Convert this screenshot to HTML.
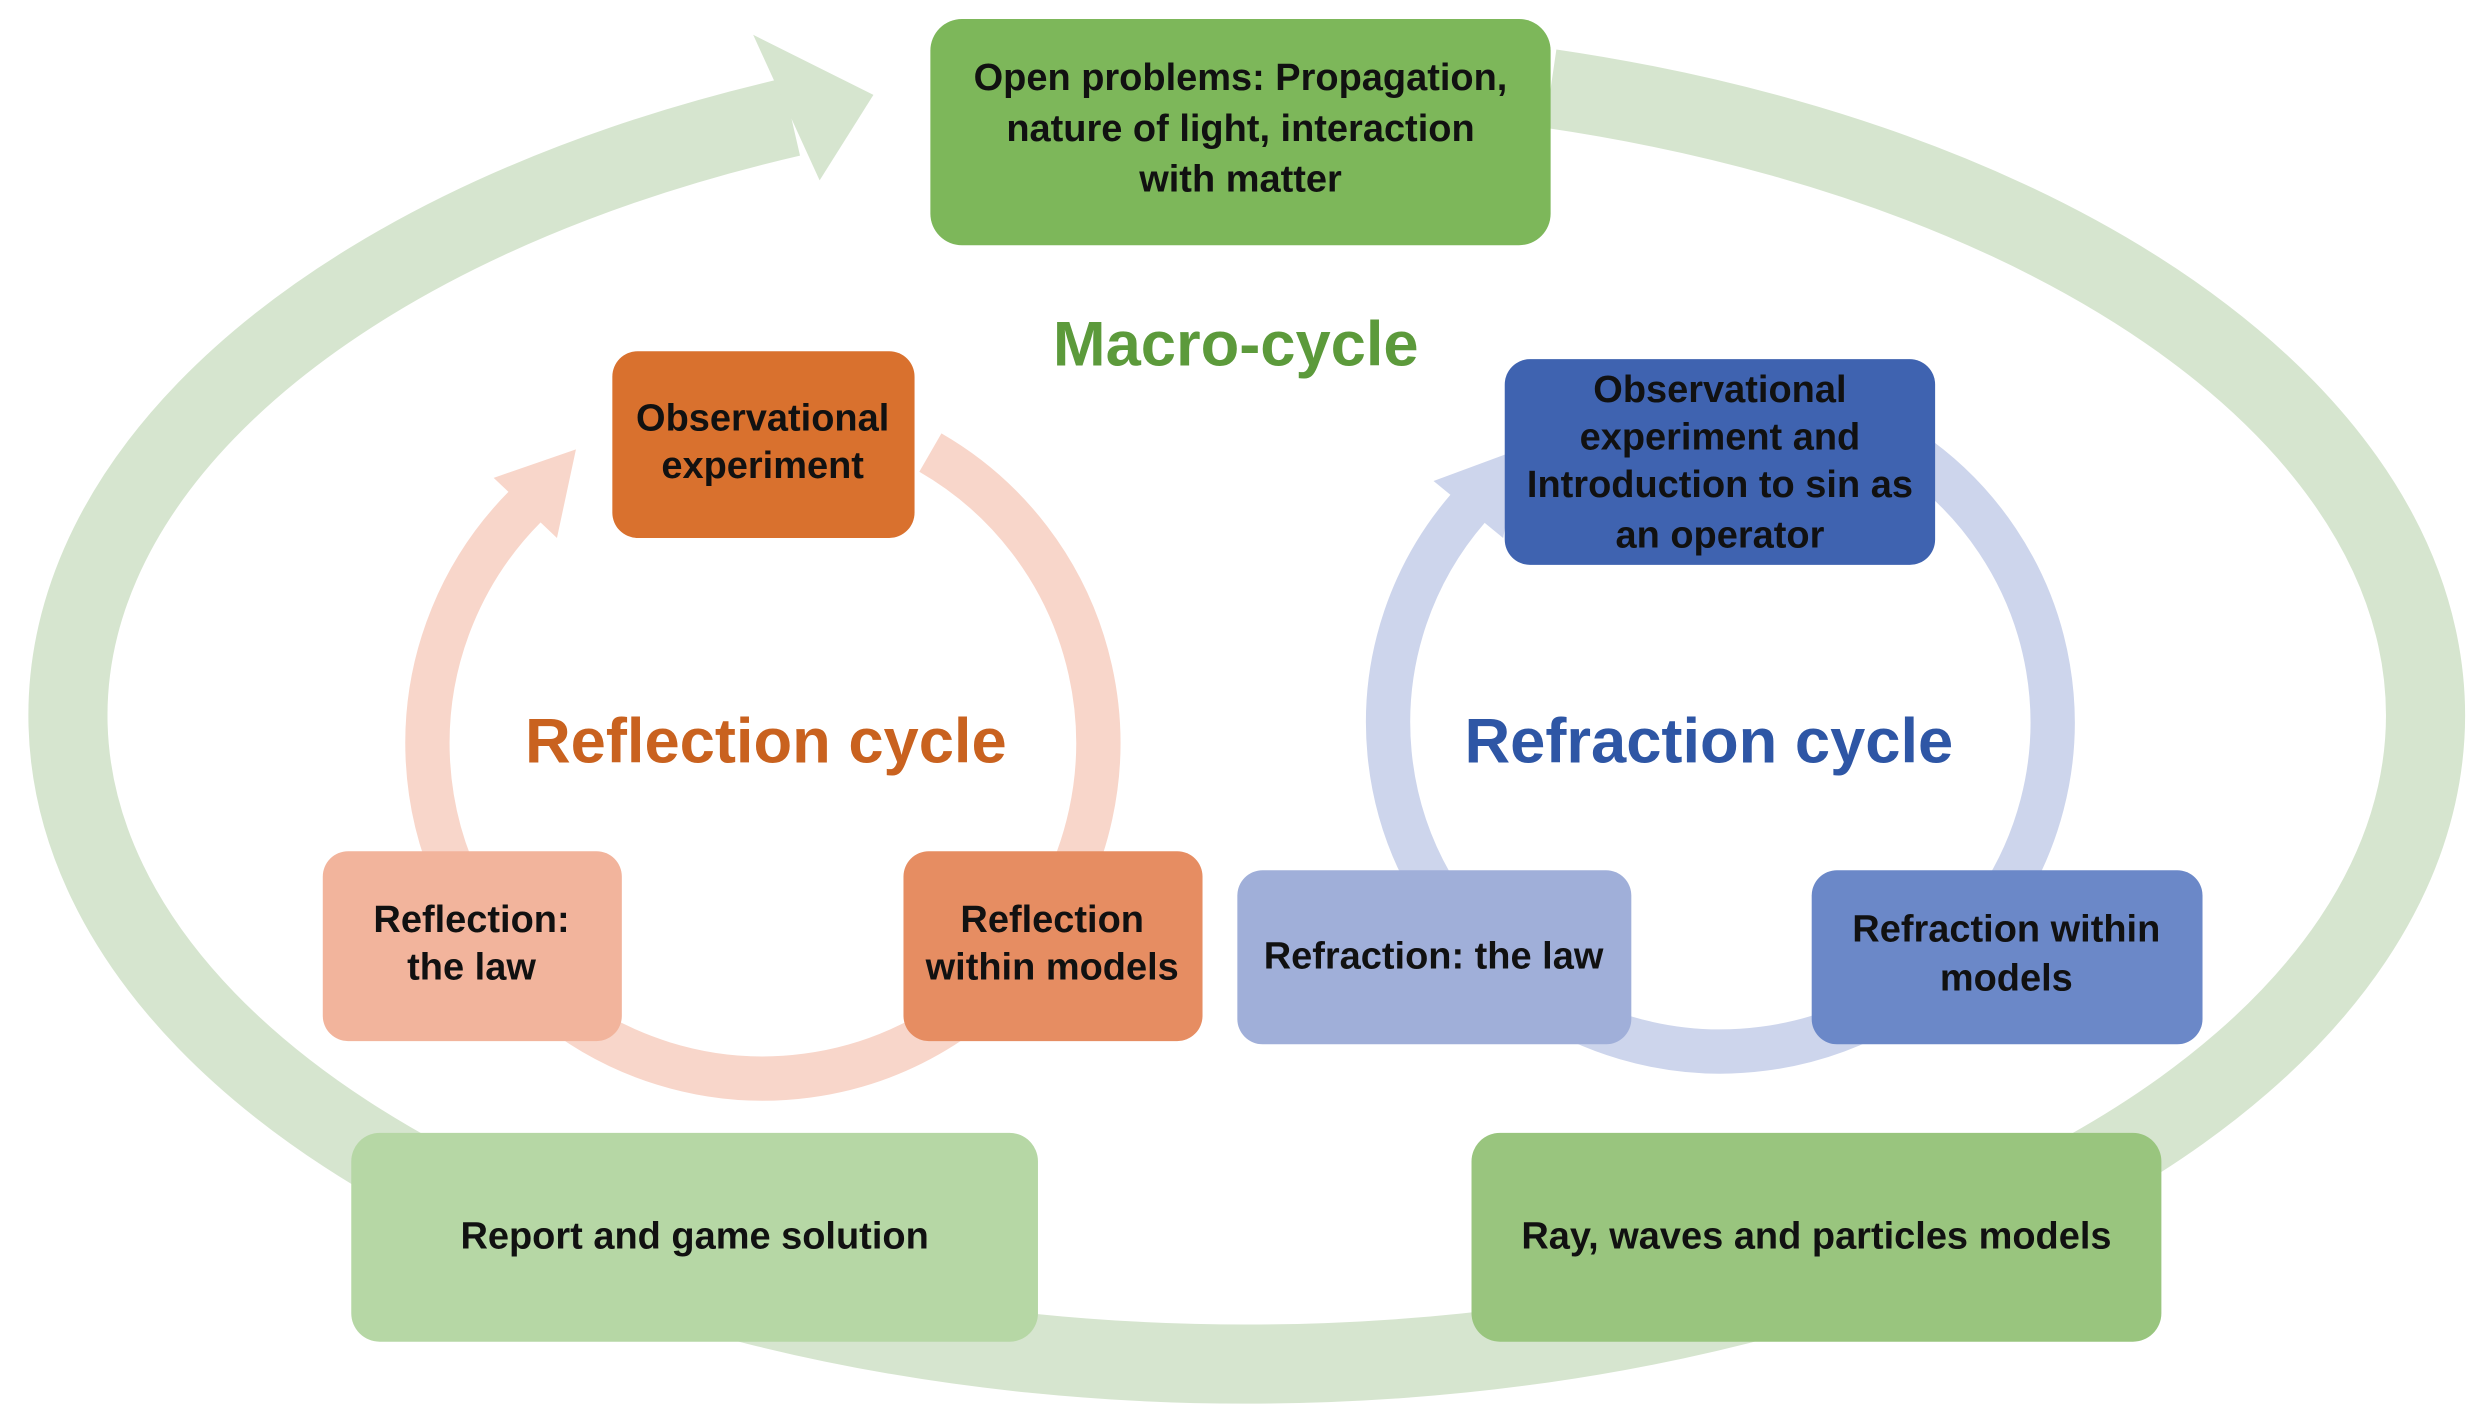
<!DOCTYPE html>
<html><head><meta charset="utf-8"><style>
html,body{margin:0;padding:0;background:#fff;}
svg{display:block;}
text{font-family:"Liberation Sans Narrow","Liberation Sans",sans-serif;font-weight:bold;text-anchor:middle;}
.b{font-size:24px;fill:#111;}
</style></head><body>
<svg width="2481" height="1424" viewBox="0 0 1568 900" preserveAspectRatio="none" xmlns="http://www.w3.org/2000/svg">
<!-- macro ellipse -->
<path d="M 980 56 A 745 410 0 1 1 500 74" fill="none" stroke="#d6e5cf" stroke-width="50"/>
<polygon points="476,22 552,60 518,114" fill="#d6e5cf"/>
<!-- reflection ring -->
<path d="M 588 286 A 212 212 0 1 1 332 320" fill="none" stroke="#f8d6ca" stroke-width="28"/>
<polygon points="364,284 352,340 312,302" fill="#f8d6ca"/>
<!-- refraction ring -->
<path d="M 1206 285 A 210 208 0 1 1 928 321" fill="none" stroke="#cdd5ec" stroke-width="28"/>
<polygon points="960,284 950,340 906,304" fill="#cdd5ec"/>

<rect x="588" y="12" width="392" height="143" rx="20" fill="#7db75a"/>
<text class="b" x="784" y="57">Open problems: Propagation,</text>
<text class="b" x="784" y="89">nature of light, interaction</text>
<text class="b" x="784" y="121">with matter</text>

<text x="781" y="231" style="font-size:40px;fill:#5c9a3b">Macro-cycle</text>

<rect x="387" y="222" width="191" height="118" rx="16" fill="#d9712e"/>
<text class="b" x="482" y="272">Observational</text>
<text class="b" x="482" y="302">experiment</text>

<rect x="204" y="538" width="189" height="120" rx="16" fill="#f2b49c"/>
<text class="b" x="298" y="589">Reflection:</text>
<text class="b" x="298" y="619">the law</text>

<rect x="571" y="538" width="189" height="120" rx="16" fill="#e68d62"/>
<text class="b" x="665" y="589">Reflection</text>
<text class="b" x="665" y="619">within models</text>

<text x="484" y="482" style="font-size:40px;fill:#c9621f">Reflection cycle</text>

<rect x="951" y="227" width="272" height="130" rx="16" fill="#3f63b0"/>
<text class="b" x="1087" y="254">Observational</text>
<text class="b" x="1087" y="284">experiment and</text>
<text class="b" x="1087" y="314">Introduction to sin as</text>
<text class="b" x="1087" y="346">an operator</text>

<rect x="782" y="550" width="249" height="110" rx="16" fill="#a0afd9"/>
<text class="b" x="906" y="612">Refraction: the law</text>

<rect x="1145" y="550" width="247" height="110" rx="16" fill="#6b88c8"/>
<text class="b" x="1268" y="595">Refraction within</text>
<text class="b" x="1268" y="626">models</text>

<text x="1080" y="482" style="font-size:40px;fill:#2e56a5">Refraction cycle</text>

<rect x="222" y="716" width="434" height="132" rx="18" fill="#b6d7a5"/>
<text class="b" x="439" y="789">Report and game solution</text>

<rect x="930" y="716" width="436" height="132" rx="18" fill="#99c57e"/>
<text class="b" x="1148" y="789">Ray, waves and particles models</text>
</svg>
</body></html>
